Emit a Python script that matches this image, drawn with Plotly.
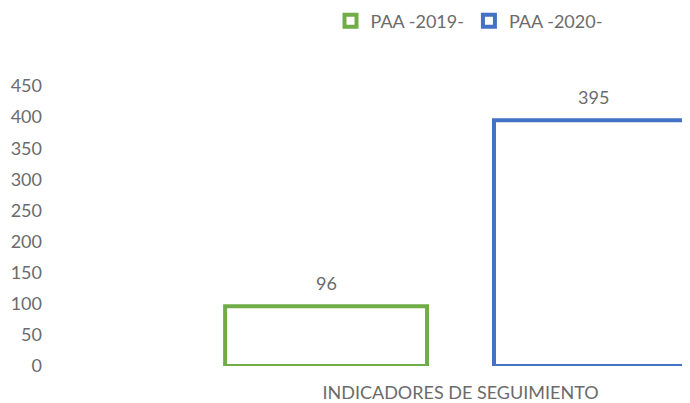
import plotly.graph_objects as go

categories = ["INDICADORES DE SEGUIMIENTO"]
series_names = ["PAA -2019-", "PAA -2020-"]
values_2019 = [96]
values_2020 = [395]
y_ticks = [0, 50, 100, 150, 200, 250, 300, 350, 400, 450]

colors = ["#70AD47", "#4472C4"]
font_family = "Lato, 'Liberation Sans', sans-serif"
text_gray = "#6b6b6b"

# page body has an 8px default margin; the paper is sized to end at the window edge
W, H = 682, 395
ML, MR, MT, MB = 42, 0, 78, 37
bargap = 0.345
bargroupgap = 0.249
x_range = [-0.5, 0.2795]

fig = go.Figure()
for name, vals, col in zip(series_names, [values_2019, values_2020], colors):
    fig.add_trace(go.Bar(
        x=categories, y=vals, name=name,
        marker=dict(color="rgba(255,255,255,0)", line=dict(color=col, width=4)),
        hoverinfo="skip",
    ))

unit_px = (W - ML - MR) / (x_range[1] - x_range[0])
slot_px = (1 - bargap) / 2 * unit_px
for i, vals in enumerate([values_2019, values_2020]):
    for cat, v in zip(categories, vals):
        fig.add_annotation(
            x=cat, y=v, text=str(v), showarrow=False,
            xshift=(i - 0.5) * slot_px - 1.5 * i, yshift=23, yanchor="middle",
            font=dict(family=font_family, size=18, color=text_gray),
        )

fig.update_layout(
    width=W, height=H,
    margin=dict(l=ML, r=MR, t=MT, b=MB, autoexpand=False),
    paper_bgcolor="white", plot_bgcolor="white",
    barmode="group", bargap=bargap, bargroupgap=bargroupgap,
    font=dict(family=font_family, size=18, color=text_gray),
    showlegend=True,
    legend=dict(orientation="h", xref="container", yref="container",
                x=461 / W, xanchor="center", y=1 - 13 / H, yanchor="middle",
                font=dict(size=18, color=text_gray), itemwidth=30,
                bgcolor="rgba(0,0,0,0)"),
    xaxis=dict(range=x_range, showgrid=False, showline=False, zeroline=False,
               ticks="", ticklabelstandoff=14, automargin=False,
               tickfont=dict(size=18, color=text_gray)),
    yaxis=dict(range=[0, 450], tickvals=y_ticks, showgrid=False, showline=False,
               zeroline=False, ticks="", automargin=False, ticklabelstandoff=7,
               tickfont=dict(size=18, color=text_gray)),
)

fig.write_html("out.html")
